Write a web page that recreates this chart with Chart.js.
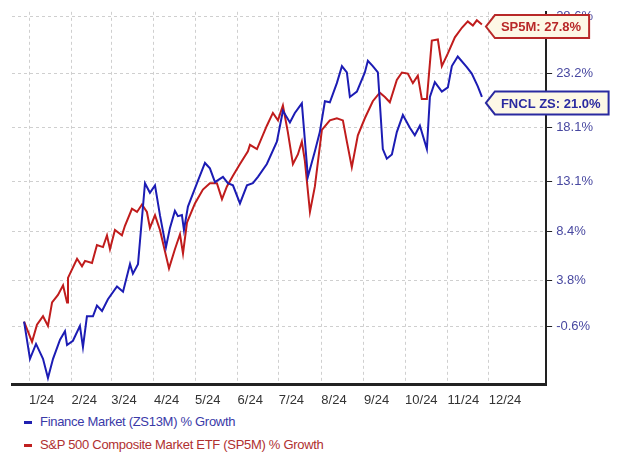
<!DOCTYPE html>
<html>
<head>
<meta charset="utf-8">
<script src="https://cdn.jsdelivr.net/npm/chart.js@4"></script>
<style>
  body { margin: 0; background: #fff; font-family: "Liberation Sans", Arial, sans-serif; }
  #wrap { position: relative; width: 620px; height: 416px; }
  .legend { margin-left: 24px; font-size: 13px; line-height: 23px; letter-spacing: -0.3px; margin-top: -6px; }
  .legend span.dash { display: inline-block; width: 8px; height: 3px; vertical-align: middle; margin-right: 8px; }
</style>
</head>
<body>
<div id="wrap"><canvas id="canvas1"></canvas></div>
<div class="legend">
  <div style="color:#3a3aa8"><span class="dash" style="background:#2020b0"></span>Finance Market (ZS13M) % Growth</div>
  <div style="color:#b03030"><span class="dash" style="background:#c02020"></span>S&amp;P 500 Composite Market ETF (SP5M) % Growth</div>
</div>
<script>
const canvas = document.getElementById('canvas1');
var ctx = canvas.getContext('2d');

const monthDays = [0, 31, 60, 91, 121, 152, 182, 213, 244, 274, 305, 335];
const monthLabels = ['1/24', '2/24', '3/24', '4/24', '5/24', '6/24', '7/24', '8/24', '9/24', '10/24', '11/24', '12/24'];
const yTicks = [28.6, 23.2, 18.1, 13.1, 8.4, 3.8, -0.6];

// day offset from Jan 1 2024
const finDays = [-3.6, 0.7, 5.1, 10.2, 13.8, 17.5, 22.6, 26.2, 27.7, 32, 37.1, 39.3, 42.2, 46.6, 49.5, 53.2, 57.5, 64.1, 68.5, 73.6, 75.7, 79.4, 84.5, 88.1, 91.8, 95.4, 99.8, 102.7, 106.3, 108.5, 111.4, 112.9, 115.8, 122.4, 128.2, 131.8, 135.5, 141.3, 144.9, 148.6, 153.7, 158.8, 163.1, 166.8, 173.3, 180.6, 185, 190.1, 193.7, 198.8, 203.2, 208.3, 211.9, 215.6, 219.2, 224.3, 228, 231.6, 233.8, 238.9, 244.7, 246.9, 250.5, 254.2, 257.8, 260.7, 264.4, 268, 272.4, 277.5, 281.1, 284.8, 289.9, 292.1, 295.7, 300.8, 305.2, 308.1, 312.4, 319, 322.6, 327, 330];
const finVals = [-0.1, -3.6, -2.2, -3.6, -5.4, -3.6, -1.8, -1.0, -2.3, -1.9, -0.5, -2.5, 0.4, 0.4, 1.4, 0.9, 2.0, 3.2, 2.7, 5.3, 4.4, 5.3, 12.9, 12.0, 12.7, 9.9, 6.9, 8.7, 10.3, 9.8, 9.9, 8.5, 10.7, 12.9, 14.8, 14.3, 13.0, 13.5, 12.9, 12.7, 11.0, 12.7, 12.9, 13.5, 14.7, 16.8, 19.7, 18.6, 19.5, 20.4, 13.5, 15.9, 17.7, 20.6, 20.5, 22.3, 23.9, 23.3, 21.0, 21.5, 23.3, 24.4, 23.9, 23.3, 16.1, 15.2, 15.6, 17.7, 19.3, 18.1, 17.4, 18.3, 16.1, 21.0, 22.4, 21.5, 21.9, 23.9, 24.8, 23.8, 23.2, 22.0, 21.0];

const spDays = [-3.6, 2.2, 5.8, 10.2, 13.8, 16.8, 21.1, 24.8, 27.7, 28.4, 35, 38.6, 40.8, 45.9, 49.5, 53.9, 56.8, 59, 62.6, 67.7, 69.9, 75, 78.7, 82.3, 85.9, 88.1, 91.8, 95.4, 102, 106.3, 110, 112.2, 115.1, 120.9, 126.7, 131.8, 136.9, 140.6, 144.2, 148.6, 153.7, 159.5, 161, 166.1, 173.3, 177.7, 181.4, 185, 188.6, 192.3, 195.9, 198.8, 201, 204.7, 208.3, 213.4, 219.2, 224.3, 228.7, 231.6, 235.2, 239.6, 244.7, 250.5, 255.6, 259.3, 262.9, 268, 271.7, 276, 279.7, 283.3, 286.2, 289.9, 293.5, 297.9, 300.8, 305.2, 310.3, 315.4, 319.7, 323.4, 326.3, 330];
const spVals = [-0.1, -2.0, -0.4, 0.4, -0.5, 1.7, 2.4, 3.3, 1.7, 4.0, 5.8, 5.1, 5.6, 5.4, 7.1, 6.9, 8.0, 6.7, 8.5, 8.0, 8.9, 10.5, 10.2, 10.9, 10.2, 8.7, 9.9, 8.5, 4.9, 6.7, 8.1, 6.3, 9.2, 11.0, 12.3, 12.9, 12.9, 11.4, 12.6, 13.6, 14.7, 15.9, 16.5, 16.1, 18.3, 19.5, 18.8, 20.2, 17.7, 14.7, 15.6, 16.8, 15.0, 10.2, 12.6, 17.9, 18.8, 19.0, 18.8, 16.8, 14.4, 17.4, 19.0, 20.6, 21.4, 21.0, 20.5, 22.6, 23.3, 23.2, 22.3, 23.0, 20.8, 20.8, 26.3, 26.4, 23.9, 25.1, 26.6, 27.5, 28.1, 27.7, 28.2, 27.8];

const endTags = [
  { text: 'FNCL ZS: 21.0%', color: '#2a2aa0', dy: 6 },
  { text: 'SP5M: 27.8%', color: '#b82828', dy: 2 }
];

const tagPlugin = {
  id: 'tags',
  afterDraw(chart) {
    const c = chart.ctx;
    c.save();
    c.font = 'bold 13px "Liberation Sans", Arial';
    chart.data.datasets.forEach((ds, i) => {
      const meta = chart.getDatasetMeta(i);
      const p = meta.data[meta.data.length - 1];
      const tag = endTags[i];
      const x = p.x + 4, y = p.y + tag.dy;
      const w = c.measureText(tag.text).width + 14, h = 23;
      c.beginPath();
      c.moveTo(x, y);
      c.lineTo(x + 9, y - h / 2);
      c.lineTo(x + 9 + w, y - h / 2);
      c.lineTo(x + 9 + w, y + h / 2);
      c.lineTo(x + 9, y + h / 2);
      c.closePath();
      c.fillStyle = '#fdf8e6';
      c.fill();
      c.lineWidth = 2;
      c.strokeStyle = tag.color;
      c.stroke();
      c.fillStyle = tag.color;
      c.textBaseline = 'middle';
      c.fillText(tag.text, x + 15, y + 1);
    });
    c.restore();
  }
};

const data = {
  datasets: [{
    label: 'Finance Market (ZS13M) % Growth',
    data: finDays.map((d, i) => ({ x: d, y: finVals[i] })),
    borderColor: '#1c1cb4',
    borderWidth: 2,
    pointRadius: 0,
    tension: 0
  }, {
    label: 'S&P 500 Composite Market ETF (SP5M) % Growth',
    data: spDays.map((d, i) => ({ x: d, y: spVals[i] })),
    borderColor: '#c01c1c',
    borderWidth: 2,
    pointRadius: 0,
    tension: 0
  }]
};

const options = {
  responsive: false,
  animation: false,
  layout: { padding: { left: 12, top: 3, right: 23, bottom: 0 } },
  plugins: { legend: { display: false }, tooltip: { enabled: false } },
  scales: {
    x: {
      type: 'linear',
      min: -12.4,
      max: 376.8,
      afterBuildTicks: (axis) => { axis.ticks = monthDays.map(v => ({ value: v })); },
      grid: { color: '#cfcfcf', drawTicks: false },
      border: { color: '#222', width: 3, dash: [3, 3] },
      ticks: {
        autoSkip: false,
        maxRotation: 0,
        align: 'start',
        padding: 8,
        color: '#333',
        font: { size: 13, family: '"Liberation Sans", Arial' },
        callback: (v) => monthLabels[monthDays.indexOf(v)]
      }
    },
    y: {
      position: 'right',
      min: -6,
      max: 29,
      afterBuildTicks: (axis) => { axis.ticks = yTicks.map(v => ({ value: v })); },
      grid: { color: '#cfcfcf', tickColor: '#222', tickLength: 6 },
      border: { color: '#222', width: 2, dash: [3, 3] },
      ticks: {
        padding: 4,
        color: '#4848a0',
        font: { size: 13, family: '"Liberation Sans", Arial' },
        callback: (v) => v.toFixed(1) + '%'
      }
    }
  }
};

canvas.width = 620;
canvas.height = 416;
var myChart = new Chart(ctx, { type: 'line', data: data, options: options, plugins: [tagPlugin] });
</script>
</body>
</html>
